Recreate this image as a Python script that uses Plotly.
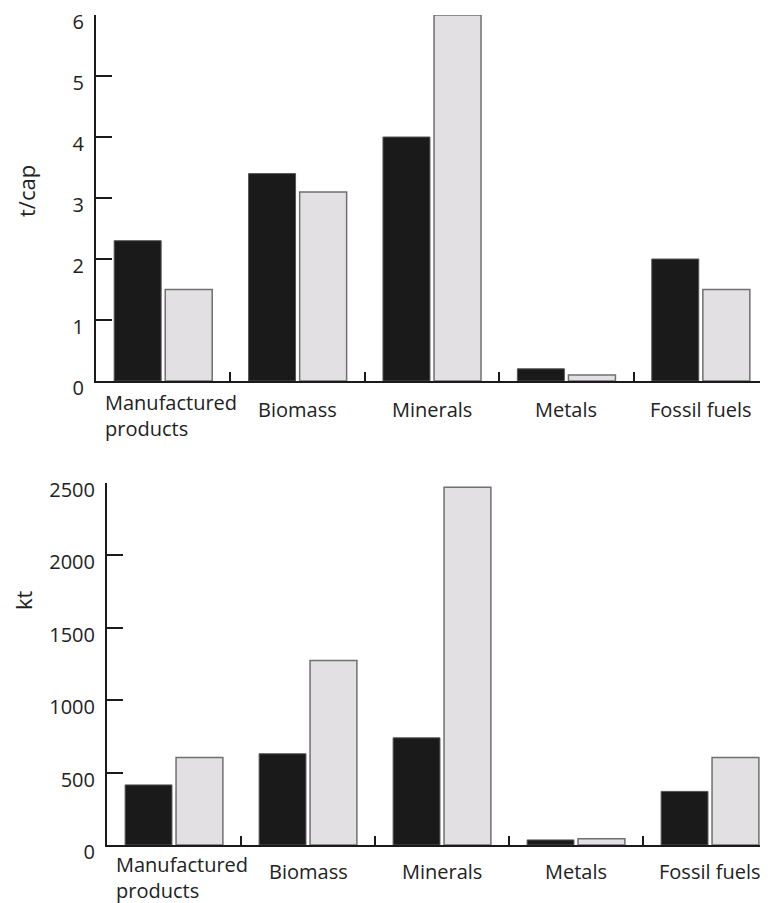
import plotly.graph_objects as go

# ---- data ----
categories = ["Manufactured products", "Biomass", "Minerals", "Metals", "Fossil fuels"]
category_labels = ["Manufactured<br>products", "Biomass", "Minerals", "Metals", "Fossil fuels"]
per_capita_dark = [2.3, 3.4, 4.0, 0.2, 2.0]
per_capita_light = [1.5, 3.1, 6.0, 0.1, 1.5]
total_dark = [415, 630, 740, 35, 370]
total_light = [605, 1275, 2470, 44, 605]
top_ticks = [0, 1, 2, 3, 4, 5, 6]
bottom_ticks = [0, 500, 1000, 1500, 2000, 2500]
top_title = "t/cap"
bottom_title = "kt"

OFF = 8  # page body margin
W, H = 768 - OFF, 903 - OFF
FONT = "Open Sans"
TXT = "#222222"
DARK = "#1a1a1a"
LIGHT = "#e2e0e2"
AX = "#1a1a1a"

fig = go.Figure()

def add_pair(dark, light, xa, ya):
    fig.add_trace(go.Bar(x=categories, y=dark, xaxis=xa, yaxis=ya,
                         marker=dict(color=DARK, line=dict(color="#555555", width=1)),
                         showlegend=False, hoverinfo="skip"))
    fig.add_trace(go.Bar(x=categories, y=light, xaxis=xa, yaxis=ya,
                         marker=dict(color=LIGHT, line=dict(color="#707070", width=1.5)),
                         showlegend=False, hoverinfo="skip"))

add_pair(per_capita_dark, per_capita_light, "x", "y")
add_pair(total_dark, total_light, "x2", "y2")

# pixel geometry (reference window coords, shifted by OFF)
top_y0, top_y1 = 381 - OFF, 15 - OFF
bot_y0, bot_y1 = 845 - OFF, 483 - OFF
top_x0, bot_x0 = 96 - OFF, 107 - OFF
top_cat_w = 134.4
bot_cat_w = 134.0

def dom_y(p0, p1):
    return [1 - p0 / H, 1 - p1 / H]

xcommon = dict(type="category", showline=True, linecolor=AX, linewidth=2,
               ticks="inside", tickson="boundaries", ticklen=9, tickwidth=2,
               tickcolor=AX, showticklabels=False, showgrid=False,
               zeroline=False, automargin=False, fixedrange=True)
ycommon = dict(showline=True, linecolor=AX, linewidth=2, ticks="inside",
               ticklen=16, tickwidth=2, tickcolor=AX, showgrid=False,
               zeroline=False, automargin=False,
               tickfont=dict(family=FONT, size=20, color=TXT),
               ticklabelstandoff=6, ticklabeloverflow="allow",
               ticklabelshift=7)

fig.update_layout(
    width=W, height=H,
    margin=dict(l=0, r=0, t=0, b=0),
    paper_bgcolor="white", plot_bgcolor="white",
    barmode="group", bargap=0.24, bargroupgap=0.08,
    font=dict(family=FONT, color=TXT),
    xaxis=dict(domain=[top_x0 / W, 1], anchor="y",
               range=[-0.5, -0.5 + (W - top_x0) / top_cat_w], **xcommon),
    yaxis=dict(domain=dom_y(top_y0, top_y1), anchor="x",
               range=[0, top_ticks[-1]],
               tickvals=top_ticks, **ycommon),
    xaxis2=dict(domain=[bot_x0 / W, 1], anchor="y2",
                range=[-0.5, -0.5 + (W - bot_x0) / bot_cat_w], **xcommon),
    yaxis2=dict(domain=dom_y(bot_y0, bot_y1), anchor="x2",
                range=[0, bottom_ticks[-1]],
                tickvals=bottom_ticks, **ycommon),
)

annotations = []
for xa, ya_px, one_shift, two_shift in (("x", top_y0, 28, 34), ("x2", bot_y0, 26, 32)):
    for cat, lab in zip(categories, category_labels):
        two = "<br>" in lab
        annotations.append(dict(
            x=cat, xref=xa, y=1 - ya_px / H, yref="paper",
            text=lab, showarrow=False, xanchor="center", yanchor="middle",
            align="left", yshift=-(two_shift if two else one_shift),
            xshift=8 if two else 0,
            font=dict(family=FONT, size=20, color=TXT)))

annotations.append(dict(x=(26 - OFF) / W, y=1 - (191 - OFF) / H, xref="paper", yref="paper",
                        text=top_title, textangle=-90, showarrow=False,
                        xanchor="center", yanchor="middle",
                        font=dict(family=FONT, size=22, color=TXT)))
annotations.append(dict(x=(23 - OFF) / W, y=1 - (600 - OFF) / H, xref="paper", yref="paper",
                        text=bottom_title, textangle=-90, showarrow=False,
                        xanchor="center", yanchor="middle",
                        font=dict(family=FONT, size=22, color=TXT)))
fig.update_layout(annotations=annotations)

fig.write_html("out.html")
